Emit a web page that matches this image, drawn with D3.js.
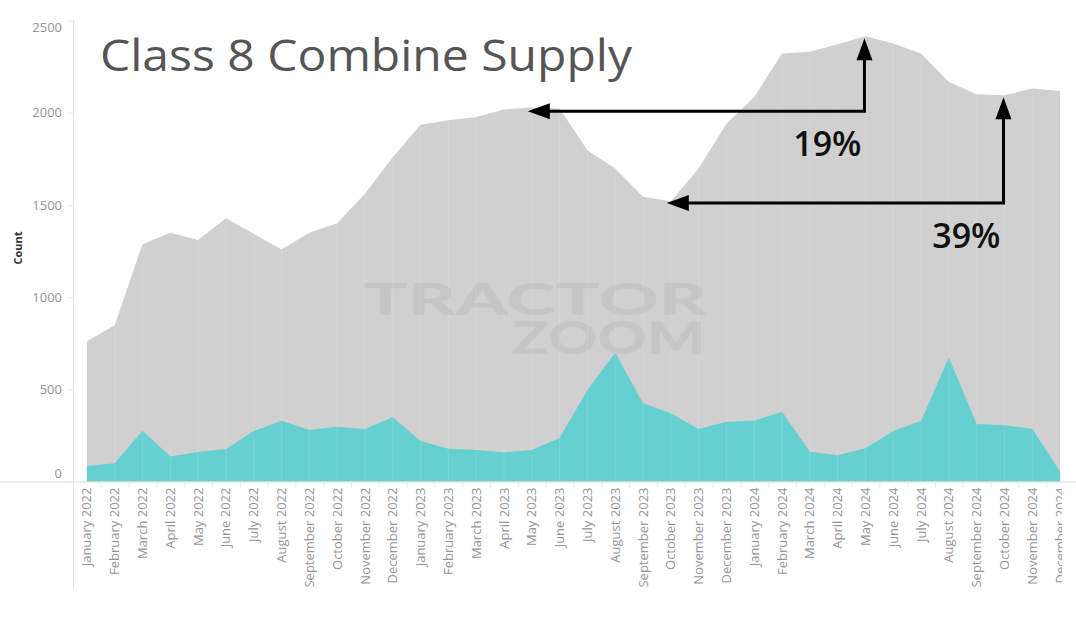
<!DOCTYPE html>
<html>
<head>
<meta charset="utf-8">
<script src="https://cdn.jsdelivr.net/npm/d3@7/dist/d3.min.js"></script>
<style>
  html, body { margin: 0; padding: 0; background: #ffffff; }
  svg { display: block; }
</style>
</head>
<body>
<svg id="chart" width="1076" height="620"></svg>
<script>
// ---- Data ----
const months = [
  "January 2022","February 2022","March 2022","April 2022","May 2022","June 2022",
  "July 2022","August 2022","September 2022","October 2022","November 2022","December 2022",
  "January 2023","February 2023","March 2023","April 2023","May 2023","June 2023",
  "July 2023","August 2023","September 2023","October 2023","November 2023","December 2023",
  "January 2024","February 2024","March 2024","April 2024","May 2024","June 2024",
  "July 2024","August 2024","September 2024","October 2024","November 2024","December 2024"
];
const totalCount = [
  761, 848, 1287, 1349, 1309, 1428, 1343, 1258, 1349, 1400, 1560, 1759,
  1934, 1959, 1977, 2017, 2028, 2023, 1797, 1698, 1544, 1520, 1698, 1940,
  2085, 2321, 2330, 2371, 2415, 2375, 2321, 2167, 2100, 2095, 2131, 2118
];
const tealCount = [
  84, 99, 275, 135, 160, 176, 274, 330, 279, 297, 285, 348,
  219, 178, 171, 158, 171, 236, 496, 698, 424, 370, 285, 324,
  330, 378, 162, 142, 180, 274, 330, 673, 312, 305, 286, 53
];
const yTicks = [0, 500, 1000, 1500, 2000, 2500];
const titleText = "Class 8 Combine Supply";
const yAxisTitle = "Count";
const watermarkLines = ["TRACTOR", "ZOOM"];
const annotations = [
  { from: "May 2024", to: "May 2023", level: 2008, label: "19%" },
  { from: "October 2024", to: "October 2023", level: 1510, label: "39%" }
];

// ---- Layout ----
const svg = d3.select("#chart");
const W = 1076, H = 620;
const x = d3.scaleBand().domain(months).range([73, 1074]).padding(0);
const cx = m => x(m) + x.bandwidth() / 2;
const y = d3.scaleLinear().domain([0, 2500]).range([481.5, 20.5]);

svg.append("defs").append("clipPath").attr("id", "xclip")
  .append("rect").attr("x", 0).attr("y", 0).attr("width", 1062).attr("height", H);

// Areas
const areaFn = d3.area()
  .x((d, i) => cx(months[i]))
  .y0(y(0))
  .y1(d => y(d));
svg.append("path")
  .datum(totalCount)
  .attr("d", areaFn)
  .attr("fill", "#d0d0d0");

// Watermark (single text element, two lines)
const wm = svg.append("text").attr("fill", "#c6c6c6")
  .attr("font-family", "Lato, 'DejaVu Sans', sans-serif")
  .attr("font-weight", 900);
wm.append("tspan").attr("x", 363).attr("y", 315).attr("font-size", 44)
  .attr("textLength", 344).attr("lengthAdjust", "spacingAndGlyphs").text(watermarkLines[0]);
wm.append("tspan").attr("x", 512).attr("y", 354).attr("font-size", 46)
  .attr("textLength", 193).attr("lengthAdjust", "spacingAndGlyphs").text(watermarkLines[1]);

svg.append("path")
  .datum(tealCount)
  .attr("d", areaFn)
  .attr("fill", "#66d0d0");

// Faint seams at each data point (as rendered in source)
svg.append("g").selectAll("line")
  .data(months.slice(1, -1))
  .join("line")
  .attr("x1", d => cx(d)).attr("x2", d => cx(d))
  .attr("y1", (d, i) => y(totalCount[i + 1])).attr("y2", y(0))
  .attr("stroke", "#ffffff").attr("stroke-opacity", 0.12).attr("stroke-width", 1);

// Baseline (zero line)
svg.append("line")
  .attr("x1", 0).attr("x2", W)
  .attr("y1", y(0) + 0.5).attr("y2", y(0) + 0.5)
  .attr("stroke", "#dcdcdc").attr("stroke-width", 1);

// Y axis
const yAxis = svg.append("g")
  .attr("transform", "translate(73,0)")
  .call(d3.axisLeft(y).tickValues(yTicks).tickSize(5).tickPadding(6).tickFormat(d3.format("d")));
yAxis.select(".domain").remove();
yAxis.selectAll(".tick line").attr("stroke", "#e8e8e8");
yAxis.selectAll(".tick text")
  .attr("fill", "#959595")
  .attr("font-family", "'Open Sans', sans-serif")
  .attr("font-size", 13)
  .attr("dy", d => d === 2500 ? "0.82em" : d === 0 ? "-0.3em" : "0.32em");
svg.append("line")
  .attr("x1", 73.5).attr("x2", 73.5).attr("y1", 20).attr("y2", 589)
  .attr("stroke", "#e2e2e2").attr("stroke-width", 1);

// X axis
const xAxis = svg.append("g")
  .attr("clip-path", "url(#xclip)")
  .append("g")
  .attr("transform", `translate(0,${y(0) + 1})`)
  .call(d3.axisBottom(x).tickSize(0).tickPadding(0));
xAxis.select(".domain").remove();
xAxis.selectAll(".tick text")
  .attr("transform", "rotate(-90)")
  .attr("text-anchor", "end")
  .attr("x", -5)
  .attr("y", 0)
  .attr("dy", "0.35em")
  .attr("fill", "#959595")
  .attr("font-family", "'Open Sans', sans-serif")
  .attr("font-size", 13);
// band separator ticks
svg.append("g").selectAll("line")
  .data(months.slice(1))
  .join("line")
  .attr("x1", d => x(d) + 0.5).attr("x2", d => x(d) + 0.5)
  .attr("y1", y(0) + 1).attr("y2", y(0) + 6)
  .attr("stroke", "#ececec");

// Y axis title
svg.append("text")
  .attr("transform", `translate(22,${(y(1000) + y(1500)) / 2 - 3}) rotate(-90)`)
  .attr("text-anchor", "middle")
  .attr("font-family", "'Open Sans', sans-serif")
  .attr("font-weight", 700)
  .attr("font-size", 11)
  .attr("fill", "#333")
  .text(yAxisTitle);

// Title
svg.append("text")
  .attr("x", 100).attr("y", 71)
  .attr("font-family", "'Open Sans', sans-serif")
  .attr("font-size", 44)
  .attr("fill", "#555555")
  .attr("textLength", 532).attr("lengthAdjust", "spacingAndGlyphs")
  .text(titleText);

// Annotations
const ann = svg.append("g");
annotations.forEach(a => {
  const xf = cx(a.from) - 1;
  const xt = cx(a.to) - 4;
  const yl = y(a.level);
  const topVal = totalCount[months.indexOf(a.from)];
  const yt = y(topVal) + 2;
  const headL = 22, headW = 8;
  ann.append("path")
    .attr("d", `M${xf},${yt + headL - 2} L${xf},${yl} L${xt + headL - 2},${yl}`)
    .attr("fill", "none").attr("stroke", "#000").attr("stroke-width", 3)
    .attr("stroke-linejoin", "miter");
  ann.append("path")
    .attr("d", `M${xf},${yt} L${xf - headW},${yt + headL} L${xf + headW},${yt + headL} Z`)
    .attr("fill", "#000");
  ann.append("path")
    .attr("d", `M${xt},${yl} L${xt + headL},${yl - headW} L${xt + headL},${yl + headW} Z`)
    .attr("fill", "#000");
  ann.append("text")
    .attr("x", xf - 3).attr("y", yl + 45)
    .attr("text-anchor", "end")
    .attr("font-family", "'Open Sans', sans-serif")
    .attr("font-weight", 600)
    .attr("font-size", 34)
    .attr("fill", "#111")
    .text(a.label);
});
</script>
</body>
</html>
